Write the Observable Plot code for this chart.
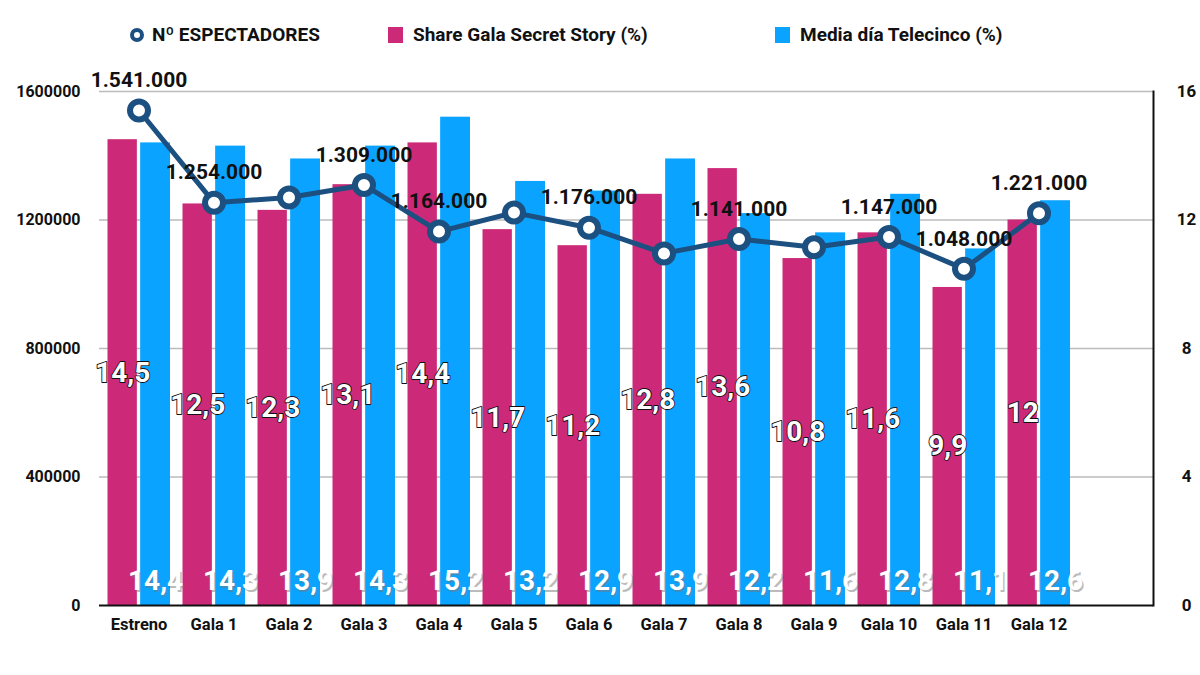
<!DOCTYPE html>
<html>
<head>
<meta charset="utf-8">
<script src="https://cdn.jsdelivr.net/npm/d3@7"></script>
<script src="https://cdn.jsdelivr.net/npm/@observablehq/plot@0.6"></script>
<style>
  body { margin: 0; background: #fff; font-family: Roboto, "Liberation Sans", sans-serif; }
  #legend { position: relative; height: 60px; width: 1200px; font-weight: bold; font-size: 19px; color: #111; }
  .item { position: absolute; top: 23px; display: flex; align-items: center; white-space: nowrap; }
  .sw { width: 15px; height: 16px; margin-right: 10px; }
  #chart svg { display: block; }
</style>
</head>
<body>
<div id="legend">
  <div class="item" style="left:129px"><svg width="16" height="16" style="margin-right:7px"><circle cx="8" cy="8" r="5" fill="#fff" stroke="#1b5080" stroke-width="4"/></svg>Nº ESPECTADORES</div>
  <div class="item" style="left:388px"><div class="sw" style="background:#cc2a78"></div>Share Gala Secret Story (%)</div>
  <div class="item" style="left:775px"><div class="sw" style="background:#0aa3ff"></div>Media día Telecinco (%)</div>
</div>
<div id="chart"></div>
<script>
const categories = ["Estreno","Gala 1","Gala 2","Gala 3","Gala 4","Gala 5","Gala 6","Gala 7","Gala 8","Gala 9","Gala 10","Gala 11","Gala 12"];
const spectators = [1541000,1254000,1270000,1309000,1164000,1223000,1176000,1096000,1141000,1115000,1147000,1048000,1221000];
const labelledGalas = ["Estreno","Gala 1","Gala 3","Gala 4","Gala 6","Gala 8","Gala 10","Gala 11","Gala 12"];
const shareGala = [14.5,12.5,12.3,13.1,14.4,11.7,11.2,12.8,13.6,10.8,11.6,9.9,12];
const mediaDia = [14.4,14.3,13.9,14.3,15.2,13.2,12.9,13.9,12.2,11.6,12.8,11.1,12.6];
const leftTicks = [0,400000,800000,1200000,1600000];
const rightTicks = [0,4,8,12,16];

const K = 1600000 / 16; // right axis (%) -> left axis units
const data = categories.map((c, i) => ({cat: c, spec: spectators[i], share: shareGala[i], media: mediaDia[i], lab: labelledGalas.includes(c)}));
const fmtPct = v => String(v).replace(".", ",");
const fmtSpec = v => d3.format(",")(v).replace(/,/g, ".");

const W = 1200, ML = 99, MR = 47;
const step = (W - ML - MR) / 14;
const font = 'Roboto, "Liberation Sans", sans-serif';

const chart = Plot.plot({
  width: W, height: 615,
  marginLeft: ML, marginRight: MR, marginTop: 31, marginBottom: 70,
  style: {fontFamily: font, background: "#fff", overflow: "visible"},
  x: {type: "band", domain: categories.concat([" "]), padding: 0, axis: null, label: null},
  y: {domain: [0, 1600000], axis: null, label: null},
  marks: [
    Plot.ruleY(leftTicks.slice(1), {stroke: "#bbb", strokeWidth: 1.5}),
    Plot.barY(data, {x: "cat", y: d => d.share * K, fill: "#cc2a78", insetLeft: 6.5, insetRight: step / 2 + 1.5}),
    Plot.barY(data, {x: "cat", y: d => d.media * K, fill: "#0aa3ff", insetLeft: step / 2 + 1.5, insetRight: 6}),
    Plot.ruleY([0], {stroke: "#111", strokeWidth: 2}),
    Plot.frame({anchor: "right", stroke: "#111", strokeWidth: 2}),
    Plot.axisY({anchor: "left", label: null, ticks: leftTicks, tickSize: 0, tickPadding: 19, tickFormat: d => String(d), fontSize: 16, fontWeight: "bold", fill: "#111"}),
    Plot.axisY({anchor: "right", label: null, ticks: rightTicks.map(v => v * K), tickSize: 0, tickPadding: 33, textAnchor: "middle", tickFormat: d => String(d / K), fontSize: 17, fontWeight: "bold", fill: "#111"}),
    Plot.axisX({label: null, ticks: categories, tickSize: 0, tickPadding: 13, fontSize: 16.5, fontWeight: "bold", fill: "#111"}),
    // pink labels (mid-bar)
    Plot.text(data, {x: "cat", y: d => d.share * K / 2, text: d => fmtPct(d.share), dx: -16.3, fill: "#fff", stroke: "#111", strokeWidth: 1.8, fontSize: 28, fontWeight: "bold"}),
    // blue labels (bottom) with shadow
    Plot.text(data, {x: "cat", y: 0, text: d => fmtPct(d.media), dx: 18, dy: -22.8, fill: "#777", fillOpacity: 0.5, fontSize: 28, fontWeight: "bold"}),
    Plot.text(data, {x: "cat", y: 0, text: d => fmtPct(d.media), dx: 16.6, dy: -24, fill: "#fff", fontSize: 28, fontWeight: "bold"}),
    // spectators line
    Plot.line(data, {x: "cat", y: "spec", stroke: "#1b5080", strokeWidth: 5}),
    Plot.dot(data, {x: "cat", y: "spec", r: 9, fill: "#fff", stroke: "#1b5080", strokeWidth: 6}),
    Plot.text(data.filter(d => d.lab), {x: "cat", y: "spec", text: d => fmtSpec(d.spec), dy: -30, fill: "#111", fontSize: 21, fontWeight: "bold"})
  ]
});
document.getElementById("chart").appendChild(chart);
</script>
</body>
</html>
